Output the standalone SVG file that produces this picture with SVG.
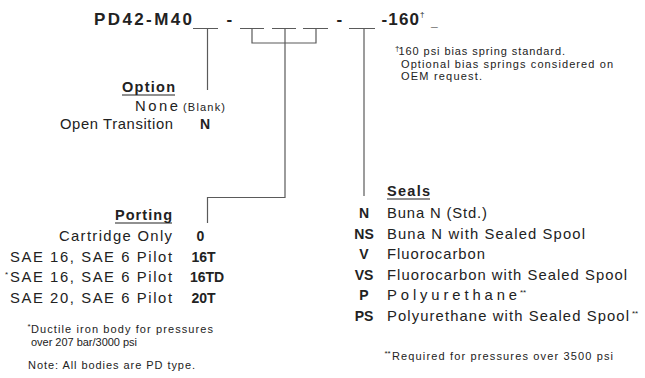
<svg xmlns="http://www.w3.org/2000/svg" width="645" height="378" viewBox="0 0 645 378">
<style>
text{font-family:"Liberation Sans",Arial,sans-serif;fill:#222}
.title{font-size:17px;font-weight:bold}
.row{font-size:14.8px}
.code{font-size:14px;font-weight:bold}
.head{font-size:14.5px;font-weight:bold}
.small{font-size:11px}
.sup{font-size:8px}
.ln{stroke:#5a5a5a;stroke-width:1.2;fill:none}
.ul{stroke:#222;stroke-width:1.2}
</style>
<rect width="645" height="378" fill="#fff"/>
<g id="model-code">
<text class="title" x="94" y="25" textLength="98" lengthAdjust="spacing">PD42-M40</text>
<text class="title" x="226.5" y="25">-</text>
<text class="title" x="336.5" y="25">-</text>
<text class="title" x="381.5" y="25" textLength="37.5" lengthAdjust="spacing">-160</text>
<text class="sup" x="420" y="17">†</text>
<text style="font-size:12px;font-weight:bold" x="431" y="26">_</text>
</g>
<g id="connectors">
<path class="ln" d="M193 28.5H218M240 28.5H264M272 28.5H296M303 28.5H328M349 28.5H375"/>
<path class="ln" d="M207.5 28.5V90"/>
<path class="ln" d="M252 28.5V43H316V28.5"/>
<path class="ln" d="M285 28.5V197.5H207.5V223"/>
<path class="ln" d="M364 28.5V196"/>
</g>
<g id="note-spring">
<text class="sup" x="395" y="51">†</text>
<text class="small" x="398.5" y="55" textLength="166.5" lengthAdjust="spacing">160 psi bias spring standard.</text>
<text class="small" x="401" y="67.5" textLength="212" lengthAdjust="spacing">Optional bias springs considered on</text>
<text class="small" x="401" y="80" textLength="81" lengthAdjust="spacing">OEM request.</text>
</g>
<g id="option">
<text class="head" x="122" y="92" textLength="53" lengthAdjust="spacing">Option</text>
<line class="ul" x1="122" y1="95" x2="175" y2="95"/>
<text class="row" x="135" y="110.5" textLength="43" lengthAdjust="spacing">None</text>
<text class="small" x="183" y="110.5" textLength="42" lengthAdjust="spacing">(Blank)</text>
<text class="row" x="60" y="128.5" textLength="113" lengthAdjust="spacing">Open Transition</text>
<text class="code" x="200" y="128.5">N</text>
</g>
<g id="porting">
<text class="head" x="115" y="220" textLength="57" lengthAdjust="spacing">Porting</text>
<line class="ul" x1="115" y1="223" x2="172" y2="223"/>
<text class="row" x="59" y="241" textLength="113" lengthAdjust="spacing">Cartridge Only</text>
<text class="code" x="196.5" y="241">0</text>
<text class="row" x="10" y="261.5" textLength="162" lengthAdjust="spacing">SAE 16, SAE 6 Pilot</text>
<text class="code" x="191.5" y="261.5">16T</text>
<text class="sup" x="5" y="277">*</text>
<text class="row" x="10" y="282" textLength="162" lengthAdjust="spacing">SAE 16, SAE 6 Pilot</text>
<text class="code" x="190" y="282">16TD</text>
<text class="row" x="10" y="302.5" textLength="162" lengthAdjust="spacing">SAE 20, SAE 6 Pilot</text>
<text class="code" x="191.5" y="302.5">20T</text>
</g>
<g id="note-porting">
<text class="sup" x="27.5" y="329">*</text>
<text class="small" x="31" y="333" textLength="182" lengthAdjust="spacing">Ductile iron body for pressures</text>
<text class="small" x="31" y="345.5" textLength="106" lengthAdjust="spacing">over 207 bar/3000 psi</text>
<text class="small" x="28" y="369" textLength="167" lengthAdjust="spacing">Note: All bodies are PD type.</text>
</g>
<g id="seals">
<text class="head" x="387" y="196" textLength="43" lengthAdjust="spacing">Seals</text>
<line class="ul" x1="387" y1="199" x2="430" y2="199"/>
<g text-anchor="middle">
<text class="code" x="364" y="218">N</text>
<text class="code" x="364" y="238.5">NS</text>
<text class="code" x="364" y="259">V</text>
<text class="code" x="364" y="279.5">VS</text>
<text class="code" x="364" y="300">P</text>
<text class="code" x="364" y="320.5">PS</text>
</g>
<text class="row" x="387" y="218" textLength="100" lengthAdjust="spacing">Buna N (Std.)</text>
<text class="row" x="387" y="238.5" textLength="198" lengthAdjust="spacing">Buna N with Sealed Spool</text>
<text class="row" x="387" y="259" textLength="98" lengthAdjust="spacing">Fluorocarbon</text>
<text class="row" x="387" y="279.5" textLength="240" lengthAdjust="spacing">Fluorocarbon with Sealed Spool</text>
<text class="row" x="387" y="300" textLength="130" lengthAdjust="spacing">Polyurethane</text>
<text class="sup" x="520" y="295">**</text>
<text class="row" x="387" y="320.5" textLength="242" lengthAdjust="spacing">Polyurethane with Sealed Spool</text>
<text class="sup" x="632" y="315.5">**</text>
</g>
<g id="note-seals">
<text class="sup" x="384.5" y="356">**</text>
<text class="small" x="392" y="360" textLength="221" lengthAdjust="spacing">Required for pressures over 3500 psi</text>
</g>
</svg>
